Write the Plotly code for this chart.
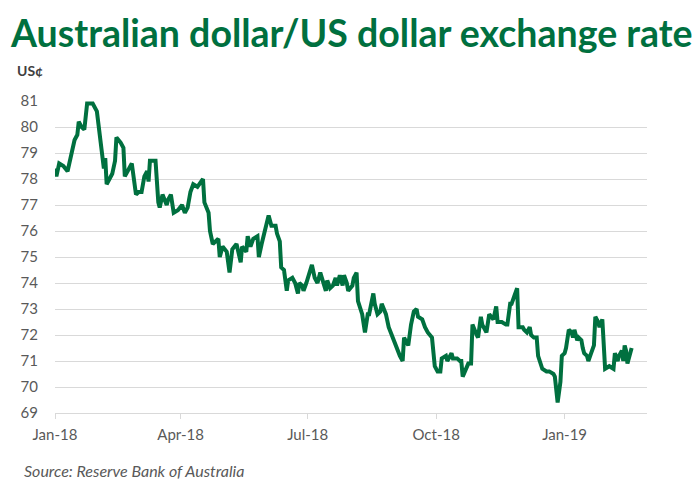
import plotly.graph_objects as go

dates = [
    "2018-01-01", "2018-01-02", "2018-01-04", "2018-01-07", "2018-01-10", "2018-01-12", "2018-01-15", "2018-01-17",
    "2018-01-18", "2018-01-20", "2018-01-22", "2018-01-24", "2018-01-28", "2018-01-31", "2018-02-02", "2018-02-04",
    "2018-02-05", "2018-02-06", "2018-02-07", "2018-02-11", "2018-02-13", "2018-02-14", "2018-02-17", "2018-02-19",
    "2018-02-20", "2018-02-22", "2018-02-25", "2018-02-28", "2018-03-02", "2018-03-04", "2018-03-06", "2018-03-08",
    "2018-03-09", "2018-03-10", "2018-03-14", "2018-03-16", "2018-03-17", "2018-03-19", "2018-03-22", "2018-03-23",
    "2018-03-25", "2018-03-27", "2018-03-30", "2018-04-02", "2018-04-04", "2018-04-06", "2018-04-08", "2018-04-10",
    "2018-04-13", "2018-04-17", "2018-04-18", "2018-04-21", "2018-04-22", "2018-04-24", "2018-04-28", "2018-04-29",
    "2018-05-01", "2018-05-04", "2018-05-06", "2018-05-08", "2018-05-11", "2018-05-14", "2018-05-15", "2018-05-18",
    "2018-05-19", "2018-05-21", "2018-05-23", "2018-05-26", "2018-05-27", "2018-05-29", "2018-06-01", "2018-06-03",
    "2018-06-05", "2018-06-08", "2018-06-09", "2018-06-11", "2018-06-12", "2018-06-14", "2018-06-16", "2018-06-17",
    "2018-06-20", "2018-06-22", "2018-06-24", "2018-06-25", "2018-06-27", "2018-06-28", "2018-06-30", "2018-07-01",
    "2018-07-04", "2018-07-06", "2018-07-08", "2018-07-10", "2018-07-12", "2018-07-14", "2018-07-15", "2018-07-17",
    "2018-07-19", "2018-07-21", "2018-07-22", "2018-07-24", "2018-07-26", "2018-07-27", "2018-07-29", "2018-07-30",
    "2018-08-02", "2018-08-03", "2018-08-05", "2018-08-06", "2018-08-09", "2018-08-11", "2018-08-13", "2018-08-14",
    "2018-08-17", "2018-08-18", "2018-08-20", "2018-08-22", "2018-08-23", "2018-08-26", "2018-08-28", "2018-08-31",
    "2018-09-01", "2018-09-03", "2018-09-05", "2018-09-07", "2018-09-08", "2018-09-11", "2018-09-13", "2018-09-15",
    "2018-09-17", "2018-09-18", "2018-09-21", "2018-09-23", "2018-09-25", "2018-09-28", "2018-09-29", "2018-09-30",
    "2018-10-02", "2018-10-04", "2018-10-05", "2018-10-08", "2018-10-09", "2018-10-12", "2018-10-13", "2018-10-16",
    "2018-10-18", "2018-10-19", "2018-10-20", "2018-10-22", "2018-10-24", "2018-10-26", "2018-10-27", "2018-10-30",
    "2018-10-31", "2018-11-02", "2018-11-03", "2018-11-06", "2018-11-08", "2018-11-11", "2018-11-13", "2018-11-14",
    "2018-11-17", "2018-11-20", "2018-11-21", "2018-11-23", "2018-11-24", "2018-11-26", "2018-11-28", "2018-11-29",
    "2018-12-02", "2018-12-03", "2018-12-05", "2018-12-07", "2018-12-08", "2018-12-10", "2018-12-12", "2018-12-13",
    "2018-12-14", "2018-12-16", "2018-12-19", "2018-12-21", "2018-12-24", "2018-12-25", "2018-12-27", "2018-12-29",
    "2018-12-30", "2019-01-01", "2019-01-02", "2019-01-03", "2019-01-04", "2019-01-06", "2019-01-07", "2019-01-08",
    "2019-01-10", "2019-01-11", "2019-01-13", "2019-01-14", "2019-01-15", "2019-01-17", "2019-01-18", "2019-01-20",
    "2019-01-22", "2019-01-23", "2019-01-25", "2019-01-26", "2019-01-28", "2019-01-30", "2019-02-02", "2019-02-05",
    "2019-02-06", "2019-02-08", "2019-02-09", "2019-02-11", "2019-02-12", "2019-02-13", "2019-02-14", "2019-02-15",
    "2019-02-17", "2019-02-18",
]

aud_usd_cents = [
    78.4, 78.1, 78.6, 78.5, 78.3, 78.8, 79.5, 79.7,
    80.2, 80.0, 79.9, 80.9, 80.9, 80.6, 79.8, 78.8,
    78.4, 78.8, 77.8, 78.2, 78.7, 79.6, 79.4, 79.2,
    78.1, 78.3, 78.6, 77.4, 77.5, 77.5, 78.1, 78.3,
    77.9, 78.7, 78.7, 77.1, 76.9, 77.4, 77.0, 77.2,
    77.4, 76.7, 76.8, 77.0, 76.7, 76.9, 77.5, 77.8,
    77.7, 78.0, 77.1, 76.7, 76.0, 75.5, 75.7, 75.0,
    75.4, 75.2, 74.4, 75.3, 75.5, 74.8, 75.4, 75.2,
    75.8, 75.4, 75.7, 75.8, 75.0, 75.5, 76.2, 76.6,
    76.2, 76.2, 75.9, 75.6, 74.6, 74.5, 73.7, 74.1,
    74.2, 74.0, 73.6, 74.0, 73.9, 73.7, 74.0, 74.2,
    74.7, 74.2, 74.0, 74.4, 74.0, 73.7, 74.1, 73.8,
    73.9, 74.2, 73.9, 74.3, 73.9, 74.3, 74.0, 73.7,
    73.9, 74.2, 74.4, 73.3, 72.8, 72.1, 72.8, 72.8,
    73.6, 73.2, 72.8, 72.9, 73.2, 72.8, 72.3, 71.9,
    71.7, 71.4, 71.2, 71.0, 71.9, 71.6, 72.4, 72.9,
    73.0, 72.7, 72.6, 72.3, 72.1, 71.9, 71.2, 70.8,
    70.6, 70.6, 71.1, 71.2, 71.0, 71.3, 71.1, 71.1,
    71.0, 71.0, 70.4, 70.7, 70.9, 70.9, 72.4, 72.0,
    71.9, 72.7, 72.4, 72.1, 72.8, 72.6, 73.1, 72.5,
    72.5, 72.4, 72.4, 73.2, 73.2, 73.5, 73.8, 72.3,
    72.3, 72.2, 72.1, 72.3, 72.0, 71.9, 71.9, 71.2,
    71.0, 70.7, 70.6, 70.6, 70.5, 70.4, 69.4, 70.2,
    71.2, 71.3, 71.5, 71.9, 72.2, 72.1, 71.9, 72.2,
    71.8, 71.9, 71.8, 71.5, 71.3, 71.2, 71.0, 71.3,
    71.6, 72.7, 72.5, 72.3, 72.6, 70.7, 70.8, 70.7,
    71.3, 71.0, 71.2, 71.4, 71.0, 71.6, 71.4, 70.9,
    71.3, 71.5,
]

x_tick_dates = ["2018-01-01", "2018-04-01", "2018-07-01", "2018-10-01", "2019-01-01"]
x_tick_labels = ["Jan-18", "Apr-18", "Jul-18", "Oct-18", "Jan-19"]
y_ticks = [69, 70, 71, 72, 73, 74, 75, 76, 77, 78, 79, 80, 81]

GREEN = "#00703F"
TEXT_GREY = "#595959"
GRID = "#D9D9D9"
FONT = "Lato, Liberation Sans, sans-serif"

fig = go.Figure()
fig.add_trace(go.Scatter(
    x=dates, y=aud_usd_cents, mode="lines",
    line=dict(color=GREEN, width=4), hoverinfo="skip", showlegend=False,
))

# The page body adds an 8px margin, so the figure is 8px smaller than the window.
fig.update_layout(
    width=692, height=476,
    margin=dict(l=47, r=53, t=93, b=71),
    paper_bgcolor="white", plot_bgcolor="white",
    font=dict(family=FONT, color=TEXT_GREY),
    xaxis=dict(
        type="date", range=["2018-01-01", "2019-03-01"],
        tickvals=x_tick_dates, ticktext=x_tick_labels,
        showgrid=False, zeroline=False,
        showline=True, linecolor=GRID, linewidth=1,
        ticks="outside", ticklen=5, tickcolor=GRID,
        tickfont=dict(size=15, color=TEXT_GREY, family=FONT),
        ticklabelstandoff=3,
    ),
    yaxis=dict(
        range=[69, 81], tickvals=y_ticks,
        showgrid=True, gridcolor=GRID, gridwidth=1,
        zeroline=False, showline=False, ticks="",
        tickfont=dict(size=15, color=TEXT_GREY, family=FONT),
        ticklabelstandoff=16,
    ),
    annotations=[
        dict(text="<b>Australian dollar/US dollar exchange rate</b>",
             xref="paper", yref="paper", x=-0.0794, y=1.298,
             xanchor="left", yanchor="top", showarrow=False,
             font=dict(size=37.5, color=GREEN, family=FONT)),
        dict(text="<b>US¢</b>",
             xref="paper", yref="paper", x=-0.0676, y=1.099,
             xanchor="left", yanchor="middle", showarrow=False,
             font=dict(size=14, color="#404040", family=FONT)),
        dict(text="<i>Source: Reserve Bank of Australia</i>",
             xref="paper", yref="paper", x=-0.0557, y=-0.183,
             xanchor="left", yanchor="middle", showarrow=False,
             font=dict(size=16, color=TEXT_GREY, family=FONT)),
    ],
)

fig.write_html("out.html")
